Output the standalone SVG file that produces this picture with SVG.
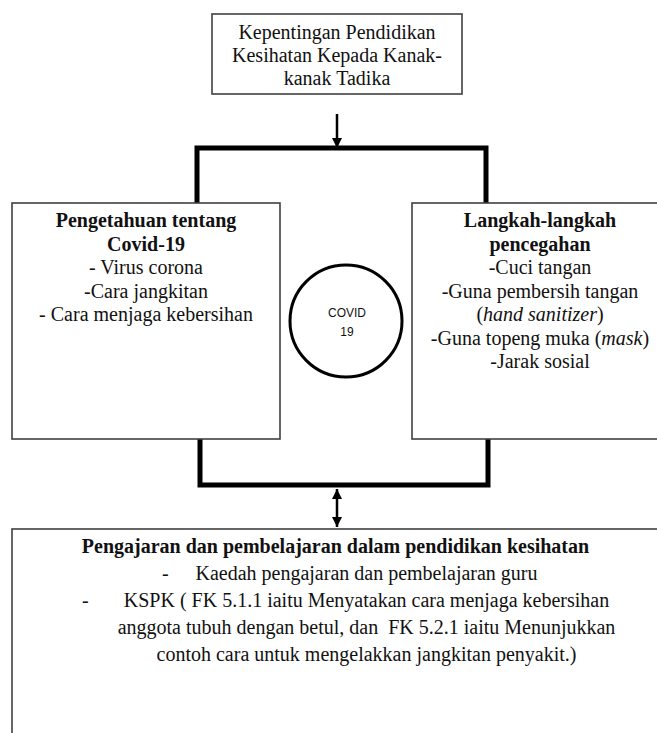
<svg xmlns="http://www.w3.org/2000/svg" width="657" height="733" viewBox="0 0 657 733">
<style>
.box{fill:#fff;stroke:#404040;stroke-width:1.6}
.t{font-family:'Liberation Serif','Times New Roman',serif;font-size:20px;fill:#111;text-anchor:middle}
.st{text-anchor:start}
.b{font-weight:bold}
.i{font-style:italic}
.s{font-family:'Liberation Sans',Arial,sans-serif;font-size:12px;fill:#111;text-anchor:middle}
.thick{fill:none;stroke:#000;stroke-width:5;stroke-linejoin:miter}
.thin{fill:none;stroke:#000;stroke-width:2.5}
</style>
<defs>
<marker id="ah" viewBox="0 0 10 10" refX="10" refY="5" markerWidth="4" markerHeight="4" orient="auto-start-reverse" markerUnits="strokeWidth">
<path d="M0,0 L10,5 L0,10 Z" fill="#000"/>
</marker>
</defs>
<rect width="657" height="733" fill="#fff"/>
<g id="connectors">
<path class="thick" d="M197,203 V148 H486 V203"/>
<path class="thick" d="M200,439 V485 H488 V439"/>
<line class="thin" x1="337" y1="114" x2="337" y2="148" marker-end="url(#ah)"/>
<line class="thin" x1="337" y1="489" x2="337" y2="527" marker-start="url(#ah)" marker-end="url(#ah)"/>
</g>
<g id="top">
<rect class="box" x="212" y="14" width="250" height="80"/>
<text class="t" x="337" y="39">Kepentingan Pendidikan</text>
<text class="t" x="337" y="62">Kesihatan Kepada Kanak-</text>
<text class="t" x="337" y="85">kanak Tadika</text>
</g>
<g id="left">
<rect class="box" x="12" y="203" width="268" height="236"/>
<text class="t b" x="146" y="227">Pengetahuan tentang</text>
<text class="t b" x="146" y="251">Covid-19</text>
<text class="t" x="146" y="274">- Virus corona</text>
<text class="t" x="146" y="298">-Cara jangkitan</text>
<text class="t" x="146" y="321">- Cara menjaga kebersihan</text>
</g>
<g id="right">
<rect class="box" x="412" y="203" width="260" height="236"/>
<text class="t b" x="540" y="227">Langkah-langkah</text>
<text class="t b" x="540" y="251">pencegahan</text>
<text class="t" x="540" y="274">-Cuci tangan</text>
<text class="t" x="540" y="298">-Guna pembersih tangan</text>
<text class="t" x="540" y="321">(<tspan class="i">hand sanitizer</tspan>)</text>
<text class="t" x="540" y="345">-Guna topeng muka (<tspan class="i">mask</tspan>)</text>
<text class="t" x="540" y="368">-Jarak sosial</text>
</g>
<g id="covid">
<circle cx="346" cy="321" r="56" fill="#fff" stroke="#000" stroke-width="3"/>
<text class="s" x="347" y="317">COVID</text>
<text class="s" x="347" y="336">19</text>
</g>
<g id="bottom">
<rect class="box" x="12" y="529" width="660" height="220"/>
<text class="t b" x="335.5" y="553">Pengajaran dan pembelajaran dalam pendidikan kesihatan</text>
<text class="t st" x="162" y="580">-</text>
<text class="t" x="366.5" y="580">Kaedah pengajaran dan pembelajaran guru</text>
<text class="t st" x="82" y="607">-</text>
<text class="t" x="366.5" y="607">KSPK ( FK 5.1.1 iaitu Menyatakan cara menjaga kebersihan</text>
<text class="t" x="366.5" y="634" xml:space="preserve">anggota tubuh dengan betul, dan  FK 5.2.1 iaitu Menunjukkan</text>
<text class="t" x="366.5" y="661">contoh cara untuk mengelakkan jangkitan penyakit.)</text>
</g>
</svg>
